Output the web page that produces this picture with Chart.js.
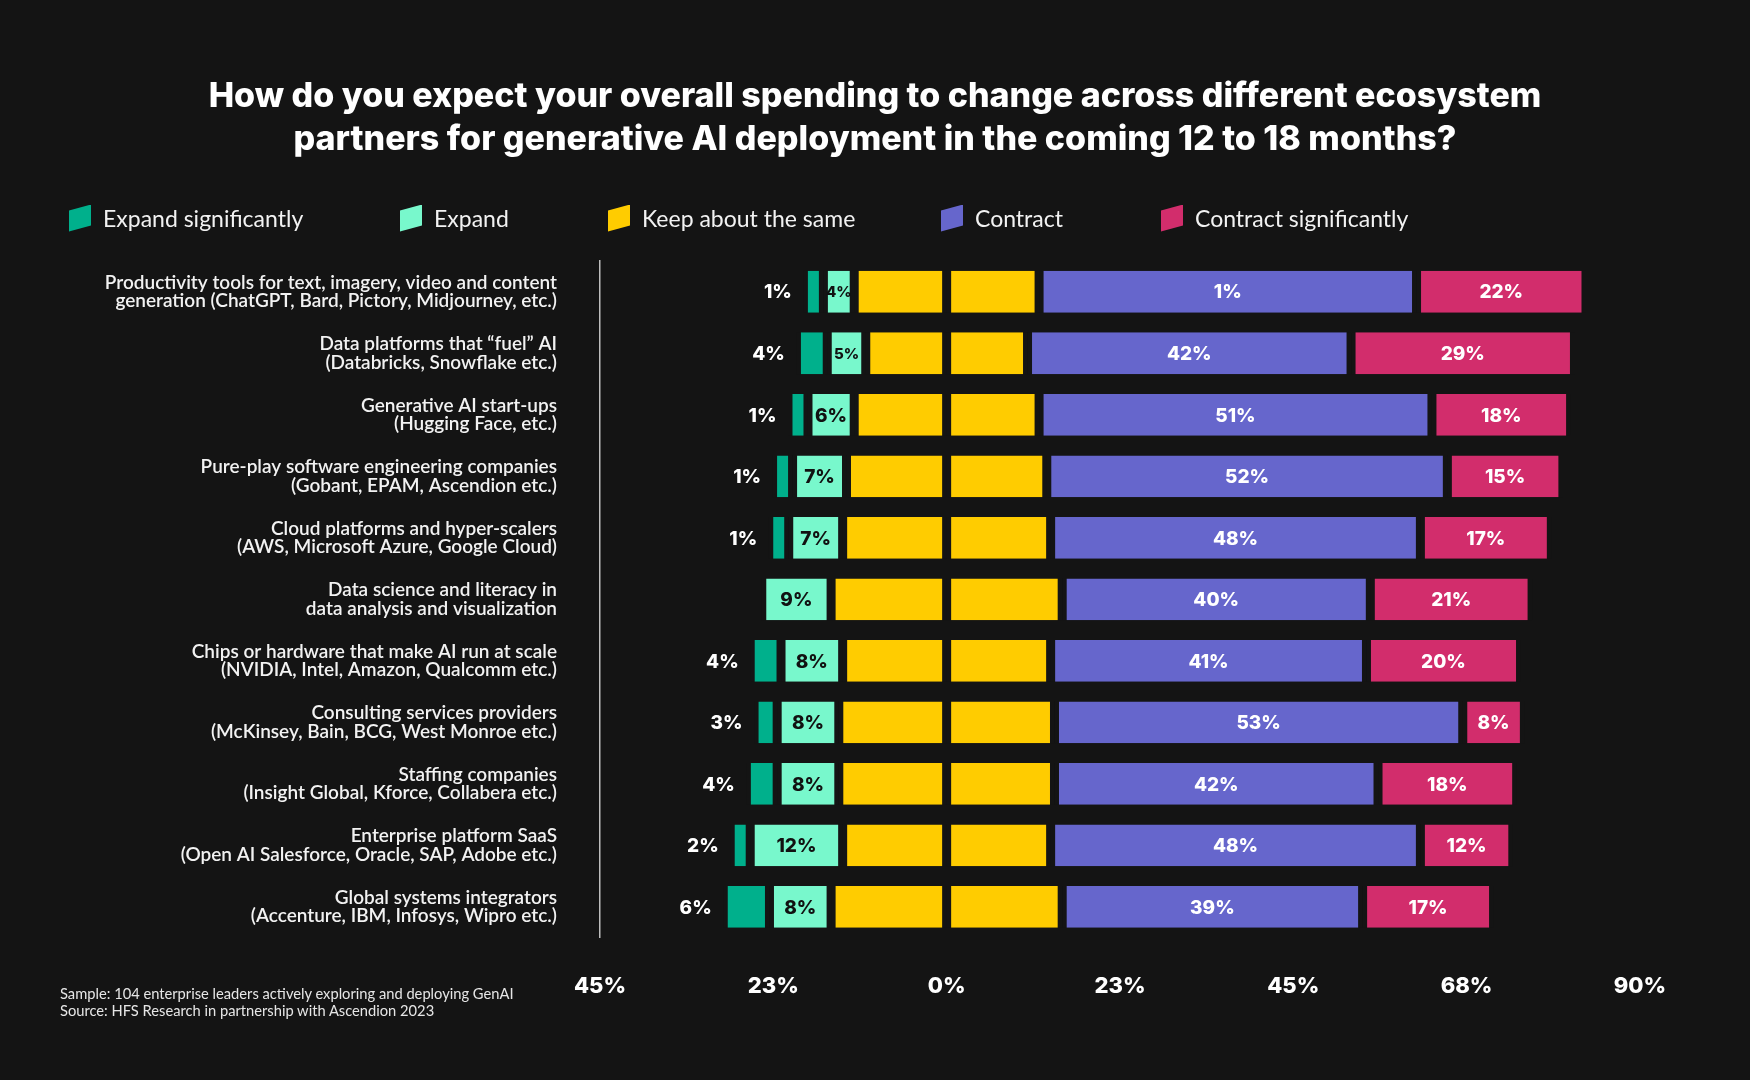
<!DOCTYPE html>
<html>
<head>
<meta charset="utf-8">
<script src="https://cdn.jsdelivr.net/npm/chart.js@4.4.1/dist/chart.umd.min.js"></script>
<style>
html,body{margin:0;padding:0;background:#141414;}
#wrap{position:relative;width:1750px;height:1080px;}
#legend{position:absolute;left:0;top:204px;width:1750px;height:30px;}
.lg{position:absolute;top:0;display:flex;align-items:center;font-family:Lato,sans-serif;font-size:23px;color:#f2f2f2;white-space:nowrap;}
.lg i{display:inline-block;width:22px;height:27px;margin-right:12px;clip-path:polygon(0 22%,100% 0,100% 78%,0 100%);}
#foot{position:absolute;left:60px;top:985px;font-family:Lato,sans-serif;font-size:14.7px;line-height:17px;color:#e6e6e6;}
</style>
</head>
<body>
<div id="wrap">
<canvas id="c" width="1750" height="1080"></canvas>
<div id="legend"></div>
<div id="foot">Sample: 104 enterprise leaders actively exploring and deploying GenAI<br>Source: HFS Research in partnership with Ascendion 2023</div>
</div>
<script>
const categories = [
  ['Productivity tools for text, imagery, video and content', 'generation (ChatGPT, Bard, Pictory, Midjourney, etc.)'],
  ['Data platforms that \u201cfuel\u201d AI', '(Databricks, Snowflake etc.)'],
  ['Generative AI start-ups', '(Hugging Face, etc.)'],
  ['Pure-play software engineering companies', '(Gobant, EPAM, Ascendion etc.)'],
  ['Cloud platforms and hyper-scalers', '(AWS, Microsoft Azure, Google Cloud)'],
  ['Data science and literacy in', 'data analysis and visualization'],
  ['Chips or hardware that make AI run at scale', '(NVIDIA, Intel, Amazon, Qualcomm etc.)'],
  ['Consulting services providers', '(McKinsey, Bain, BCG, West Monroe etc.)'],
  ['Staffing companies', '(Insight Global, Kforce, Collabera etc.)'],
  ['Enterprise platform SaaS', '(Open AI Salesforce, Oracle, SAP, Adobe etc.)'],
  ['Global systems integrators', '(Accenture, IBM, Infosys, Wipro etc.)']
];

const expandSig   = [1, 4, 1, 1, 1, null, 4, 3, 4, 2, 6];
const expand      = [4, 5, 6, 7, 7, 9, 8, 8, 8, 12, 8];
const keepSame    = [24, 21, 24, 26, 27, 30, 27, 28, 28, 27, 30];
const contract    = [49, 42, 51, 52, 48, 40, 41, 53, 42, 48, 39];
const contractSig = [22, 29, 18, 15, 17, 21, 20, 8, 18, 12, 17];

// the source graphic prints "1%" on the first contract bar
const contractLabelOverride = {0: '1%'};

const xTicks = [-45, -22.5, 0, 22.5, 45, 67.5, 90];

const BG = '#141414';
const colors = {
  expandSig: '#00b08c',
  expand: '#78f8cc',
  keep: '#ffcc00',
  contract: '#6666cc',
  contractSig: '#d22d6c'
};

const neg = a => a.map(v => v == null ? null : -v);
const half = a => a.map(v => v / 2);

function seg(label, data, raw, color, extra){
  return Object.assign({
    label, data, raw,
    backgroundColor: color,
    borderColor: BG,
    borderWidth: {left: 4.5, right: 4.5, top: 0, bottom: 0},
    borderSkipped: false,
    stack: 's'
  }, extra || {});
}

// order matters for stacking outward from zero
const datasets = [
  seg('Keep about the same', neg(half(keepSame)), keepSame, colors.keep),
  seg('Keep about the same', half(keepSame), keepSame, colors.keep, {hideLegend: true}),
  seg('Expand', neg(expand), expand, colors.expand, {labelMode: 'inside', labelColor: '#111'}),
  seg('Contract', contract, contract, colors.contract, {labelMode: 'inside', labelColor: '#fff', overrides: contractLabelOverride}),
  seg('Expand significantly', neg(expandSig), expandSig, colors.expandSig, {labelMode: 'outside', labelColor: '#fff', minBarLength: 20}),
  seg('Contract significantly', contractSig, contractSig, colors.contractSig, {labelMode: 'inside', labelColor: '#fff'})
];

const barLabels = {
  id: 'barLabels',
  afterDatasetsDraw(chart){
    const ctx = chart.ctx;
    ctx.save();
    ctx.textBaseline = 'middle';
    chart.data.datasets.forEach((ds, di) => {
      if (!ds.labelMode) return;
      chart.getDatasetMeta(di).data.forEach((bar, i) => {
        const v = ds.raw[i];
        if (v == null) return;
        const txt = (ds.overrides && ds.overrides[i]) || v + '%';
        const l = Math.min(bar.x, bar.base), r = Math.max(bar.x, bar.base);
        ctx.font = '800 19px Inter, sans-serif';
        ctx.fillStyle = ds.labelColor;
        if (ds.labelMode === 'outside'){
          ctx.textAlign = 'right';
          ctx.fillText(txt, l + 4.5 - 16, bar.y + 1);
        } else {
          // shrink the text a little when the bar is narrow
          if (ctx.measureText(txt).width > r - l - 9) ctx.font = '800 15px Inter, sans-serif';
          ctx.textAlign = 'center';
          ctx.fillText(txt, (l + r) / 2, bar.y + 1);
        }
      });
    });
    ctx.restore();
  }
};

const chart = new Chart(document.getElementById('c'), {
  type: 'bar',
  data: {labels: categories, datasets},
  options: {
    indexAxis: 'y',
    responsive: false,
    animation: false,
    layout: {padding: {left: 60, right: 60, top: 0, bottom: 44}},
    datasets: {bar: {barPercentage: 1, categoryPercentage: 0.68}},
    plugins: {
      legend: {display: false},
      tooltip: {enabled: false},
      title: {
        display: true,
        text: ['How do you expect your overall spending to change across different ecosystem',
               'partners for generative AI deployment in the coming 12 to 18 months?'],
        color: '#ffffff',
        font: {family: 'Inter, sans-serif', size: 34, weight: '800', lineHeight: 1.265},
        padding: {top: 75, bottom: 100}
      }
    },
    scales: {
      x: {
        stacked: true,
        min: -45, max: 96.5,
        afterBuildTicks: s => { s.ticks = xTicks.map(v => ({value: v})); },
        grid: {display: false, drawTicks: false},
        border: {display: false},
        ticks: {
          color: '#ffffff',
          padding: 36,
          font: {family: 'Inter, sans-serif', size: 22, weight: '800'},
          callback: v => Math.round(Math.abs(v)) + '%'
        }
      },
      y: {
        stacked: true,
        afterFit: s => { s.width = 540; },
        grid: {display: false, drawTicks: false},
        border: {display: true, color: '#bdbdbd', width: 1.5},
        ticks: {
          color: '#f2f2f2',
          padding: 43,
          font: {family: 'Lato, sans-serif', size: 19, weight: '600', lineHeight: 0.96}
        }
      }
    }
  },
  plugins: [barLabels]
});

// legend built from the chart's datasets
const legendX = [69, 400, 608, 941, 1161];
const legendOrder = ['Expand significantly', 'Expand', 'Keep about the same', 'Contract', 'Contract significantly'];
const lg = document.getElementById('legend');
legendOrder.forEach((name, k) => {
  const ds = chart.data.datasets.find(d => d.label === name && !d.hideLegend);
  const el = document.createElement('div');
  el.className = 'lg';
  el.style.left = legendX[k] + 'px';
  el.innerHTML = '<i style="background:' + ds.backgroundColor + '"></i>' + name;
  lg.appendChild(el);
});
</script>
</body>
</html>
